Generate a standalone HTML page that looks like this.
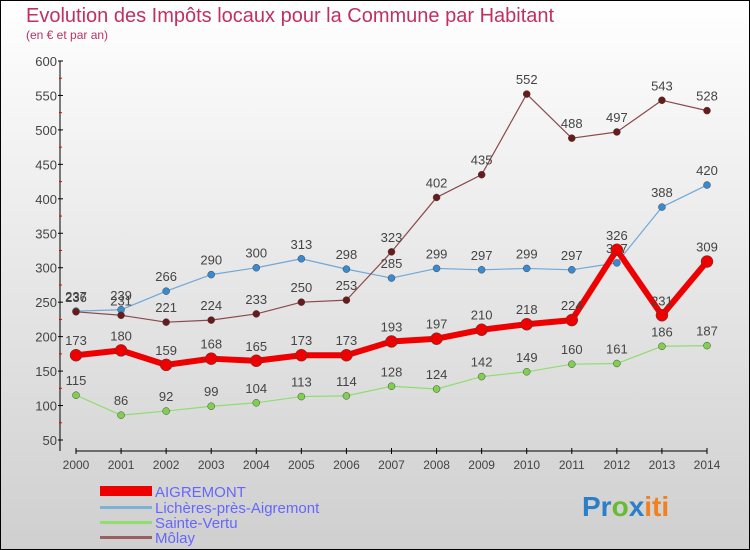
<!DOCTYPE html>
<html><head><meta charset="utf-8"><style>
body{margin:0;width:750px;height:550px;overflow:hidden}
svg{display:block;font-family:"Liberation Sans",sans-serif}
</style></head><body>
<svg id="chart" width="750" height="550">
<defs><linearGradient id="bg" x1="0" y1="0" x2="0" y2="1"><stop offset="0" stop-color="#ffffff"/><stop offset="1" stop-color="#cfcfcf"/></linearGradient></defs>
<rect x="0.5" y="0.5" width="749" height="549" fill="url(#bg)" stroke="#000"/>
<text x="26" y="22" font-size="20" fill="#c03060">Evolution des Impôts locaux pour la Commune par Habitant</text>
<text x="26" y="39" font-size="12" fill="#c03060">(en € et par an)</text>
<g id="axes"></g><g id="series"></g>
<g>
<rect x="100" y="486" width="52" height="10" fill="#ee0000"/>
<text x="155" y="497" font-size="15" fill="#6666ff">AIGREMONT</text>
<rect x="100" y="506" width="52" height="3" fill="#7fb0d8"/>
<text x="155" y="513" font-size="15" fill="#6666ff">Lichères-près-Aigremont</text>
<rect x="100" y="521" width="52" height="3" fill="#90dd70"/>
<text x="155" y="528" font-size="15" fill="#6666ff">Sainte-Vertu</text>
<rect x="100" y="536" width="52" height="3" fill="#9a6060"/>
<text x="155" y="543" font-size="15" fill="#6666ff">Môlay</text>
</g>
<g font-size="28" font-weight="bold">
<text x="582" y="516"><tspan fill="#2a7fc8">Pr</tspan><tspan fill="#66bb33">o</tspan><tspan fill="#2a7fc8">x</tspan><tspan fill="#f08020">iti</tspan></text>
</g>
</svg>
<script>
const years=[2000,2001,2002,2003,2004,2005,2006,2007,2008,2009,2010,2011,2012,2013,2014];
const yTicks=[50,100,150,200,250,300,350,400,450,500,550,600];
const aigremont=[173,180,159,168,165,173,173,193,197,210,218,224,326,231,309];
const licheres=[237,239,266,290,300,313,298,285,299,297,299,297,307,388,420];
const sainteVertu=[115,86,92,99,104,113,114,128,124,142,149,160,161,186,187];
const molay=[236,231,221,224,233,250,253,323,402,435,552,488,497,543,528];
const NS="http://www.w3.org/2000/svg";
const X=i=>76+i*(707-76)/14;
const Y=v=>440-(v-50)*(440-61)/550;
function mk(t,a,p){const e=document.createElementNS(NS,t);for(const k in a)e.setAttribute(k,a[k]);p.appendChild(e);return e;}
const ax=document.getElementById('axes');
const yl=mk('line',{x1:60,y1:61,x2:60,y2:451,stroke:'#000','stroke-width':1},ax);


const xl=mk('line',{x1:76,y1:451,x2:707,y2:451,stroke:'#000','stroke-width':1},ax);


yTicks.forEach((v,k)=>{
 mk('line',{x1:58,y1:Y(v),x2:63,y2:Y(v),stroke:'#000'},ax);
 if(k<yTicks.length-1)mk('line',{x1:59,y1:Y(v+25),x2:62,y2:Y(v+25),stroke:'#e00'},ax);
 const t=mk('text',{x:57,y:Y(v)+5,'text-anchor':'end','font-size':13,fill:'#444'},ax);
 t.textContent=v;
 
 
});
years.forEach((yr,i)=>{
 mk('line',{x1:X(i),y1:448,x2:X(i),y2:454,stroke:'#000'},ax);
 const t=mk('text',{x:X(i),y:469,'text-anchor':'middle','font-size':12,fill:'#444'},ax);
 t.textContent=yr;
 
 
});
const sg=document.getElementById('series');
function series(data,name,color,dot,w,r){
 const g=mk('g',{},sg);
 
 
 const p=mk('polyline',{points:data.map((v,i)=>X(i)+','+Y(v)).join(' '),fill:'none',stroke:color,'stroke-width':w,'stroke-linejoin':'round'},g);
 
 
 data.forEach((v,i)=>{
  const c=mk('circle',{cx:X(i),cy:Y(v),r:r,fill:dot,stroke:'#444','stroke-width':0.5},g);
  
  
  const t=mk('text',{x:X(i),y:Y(v)-10,'text-anchor':'middle','font-size':13,fill:'#444'},g);
  t.textContent=v;
  
  
 });
}
series(sainteVertu,'sainte-vertu','#90dd70','#80d050',1.2,3.5);
series(licheres,'licheres','#70a8d8','#3a8ad0',1.2,3.5);
series(molay,'molay','#8a4a4a','#6a1a1a',1.2,3.5);
series(aigremont,'aigremont','#ee0000','#ee0000',6,6);
</script>
</body></html>
